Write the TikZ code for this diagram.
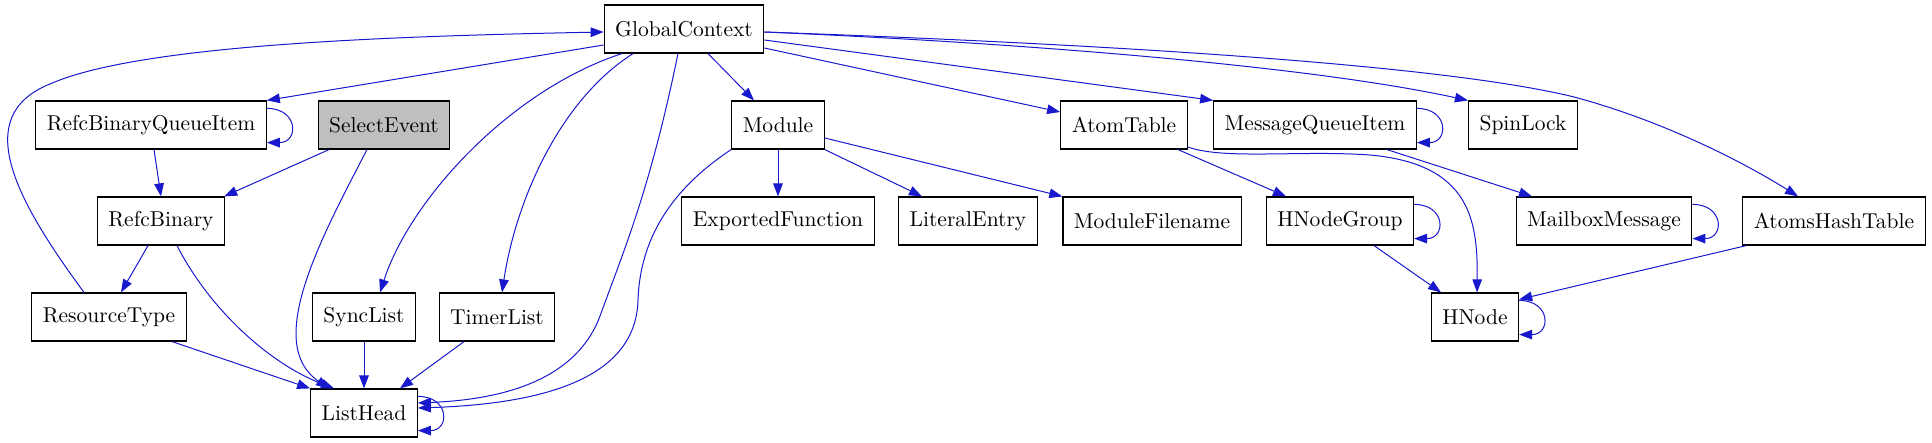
\documentclass[tikz,border=0pt]{standalone}
\usepackage{xcolor}
\usepackage{tikz}
\usetikzlibrary{arrows.meta, positioning}

\definecolor{edgeblue}{RGB}{24,24,204}

\begin{document}
\begin{tikzpicture}[node distance=48pt, on grid,
    cls/.style={rectangle, draw, line width=0.6pt, minimum height=24pt, inner xsep=5.5pt, font=\fontsize{10.75}{12}\selectfont},
    hit/.style={cls, fill=black!25},
    dep/.style={draw=edgeblue, line width=0.5pt, -{Triangle[length=6.5pt,width=4.8pt]}},
    selfloop/.style={to path={([yshift=-4pt]\tikztostart.north east) .. controls +(16pt,0) and +(16pt,0) .. ([yshift=3.5pt]\tikztotarget.south east)}}]

    \useasboundingbox (0,0) rectangle (966pt,-221.5pt);

    \node [cls] (global) at (342pt,-14.5pt) {GlobalContext};

    \node [cls, below left=48pt and 266.5pt of global] (rbqitem) {RefcBinaryQueueItem};
    \node [hit, right=116.5pt of rbqitem] (select) {SelectEvent};
    \node [cls, right=197pt of select] (module) {Module};
    \node [cls, right=173pt of module] (atomtable) {AtomTable};
    \node [cls, right=95.5pt of atomtable] (msgqitem) {MessageQueueItem};
    \node [cls, right=104pt of msgqitem] (spinlock) {SpinLock};

    \node [cls, below right=48pt and 5pt of rbqitem] (rbinary) {RefcBinary};
    \node [cls, below=of module] (expfunc) {ExportedFunction};
    \node [cls, right=95pt of expfunc] (litentry) {LiteralEntry};
    \node [cls, right=92pt of litentry] (modfile) {ModuleFilename};
    \node [cls, right=94pt of modfile] (hnodegroup) {HNodeGroup};
    \node [cls, right=132pt of hnodegroup] (mailbox) {MailboxMessage};
    \node [cls, right=115pt of mailbox] (atomshash) {AtomsHashTable};

    \node [cls, below left=48pt and 26pt of rbinary] (restype) {ResourceType};
    \node [cls, right=127.5pt of restype] (synclist) {SyncList};
    \node [cls, right=66.5pt of synclist] (timerlist) {TimerList};
    \node [cls, below right=48pt and 67.5pt of hnodegroup] (hnode) {HNode};

    \node [cls, below=of synclist] (listhead) {ListHead};

    % left part
    \draw [dep] ([yshift=-8pt]global.west) -- (rbqitem.north east);
    \draw [dep] (rbqitem) to[selfloop] (rbqitem);
    \draw [dep] ([xshift=1.5pt]rbqitem.south) -- (rbinary.north);
    \draw [dep] ([xshift=-27.5pt]select.south) -- ([xshift=-0.5pt]rbinary.north east);
    \draw [dep] ([xshift=-8.5pt]select.south) .. controls (160pt,-120pt) and (132pt,-172pt) .. ([xshift=-17.5pt]listhead.north);
    \draw [dep] ([xshift=-6.5pt]rbinary.south) -- ([xshift=6pt]restype.north);
    \draw [dep] ([xshift=8pt]rbinary.south) .. controls (105pt,-155pt) and (135pt,-182pt) .. ([xshift=-15pt]listhead.north);
    \draw [dep] ([xshift=-12.5pt]restype.north) .. controls (8pt,-100pt) and (-15pt,-58pt) .. (25pt,-42pt) .. controls (70pt,-22pt) and (200pt,-18pt) .. ([yshift=-1.5pt]global.west);
    \draw [dep] ([xshift=31.5pt]restype.south) -- (listhead.north west);
    \draw [dep] (synclist) -- (listhead);
    \draw [dep] ([xshift=-16.5pt]timerlist.south) -- ([xshift=18pt]listhead.north);
    \draw [dep] ([xshift=-31pt]global.south) .. controls (255pt,-45pt) and (205pt,-100pt) .. ([xshift=8pt]synclist.north);
    \draw [dep] ([xshift=-25.5pt]global.south) .. controls (280pt,-50pt) and (258pt,-100pt) .. ([xshift=2.5pt]timerlist.north);
    \draw [dep] ([xshift=-3pt]global.south) .. controls (325pt,-95pt) and (312pt,-125pt) .. (300pt,-158pt) .. controls (287pt,-193pt) and (245pt,-200pt) .. ([yshift=5pt]listhead.east);
    \draw [dep] (module.south west) .. controls (335pt,-95pt) and (320pt,-120pt) .. (319pt,-150pt) .. controls (318pt,-190pt) and (270pt,-202pt) .. ([yshift=2.5pt]listhead.east);
    \draw [dep] (listhead) to[selfloop] (listhead);

    % right part
    \draw [dep] ([xshift=12pt]global.south) -- ([xshift=-12pt]module.north);
    \draw [dep] (module) -- (expfunc);
    \draw [dep] (module.south east) -- ([xshift=-23pt]litentry.north);
    \draw [dep] ([yshift=-6.5pt]module.east) -- (modfile.north west);
    \draw [dep] ([yshift=-9.5pt]global.east) -- ([yshift=6.5pt]atomtable.west);
    \draw [dep] ([yshift=-5.5pt]global.east) -- (msgqitem.north west);
    \draw [dep] ([yshift=-1.5pt]global.east) .. controls (500pt,-21pt) and (650pt,-32pt) .. (spinlock.north west);
    \draw [dep] ([yshift=-1.5pt]global.east) .. controls (550pt,-22pt) and (720pt,-32pt) .. (787pt,-48.5pt) .. controls (830pt,-60pt) and (870pt,-80pt) .. ([xshift=-18pt]atomshash.north);
    \draw [dep] ([xshift=27pt]atomtable.south) -- ([xshift=-27pt]hnodegroup.north);
    \draw [dep] ([yshift=-11pt]atomtable.east) .. controls (612pt,-80pt) and (650pt,-75pt) .. (685pt,-77.5pt) .. controls (735pt,-82pt) and (739pt,-110pt) .. ([xshift=1pt]hnode.north);
    \draw [dep] (msgqitem) to[selfloop] (msgqitem);
    \draw [dep] ([xshift=36pt]msgqitem.south) -- ([xshift=-36pt]mailbox.north);
    \draw [dep] (hnodegroup) to[selfloop] (hnodegroup);
    \draw [dep] ([xshift=17pt]hnodegroup.south) -- ([xshift=-17pt]hnode.north);
    \draw [dep] (mailbox) to[selfloop] (mailbox);
    \draw [dep] ([xshift=2pt]atomshash.south west) -- ([yshift=-3.5pt]hnode.north east);
    \draw [dep] (hnode) to[selfloop] (hnode);
\end{tikzpicture}
\end{document}
